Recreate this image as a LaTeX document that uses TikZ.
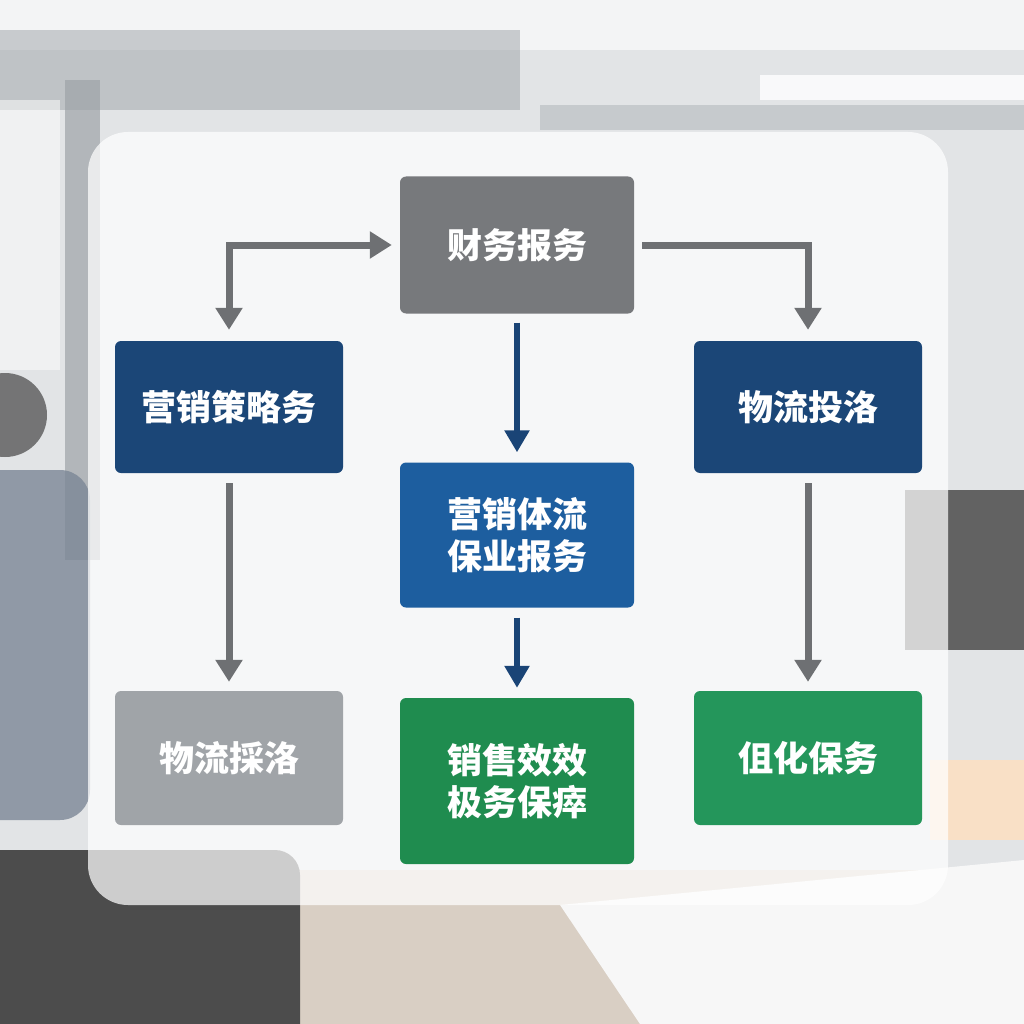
\documentclass[tikz,border=0pt]{standalone}
\usepackage{fontspec}
\usepackage{tikz}
\usetikzlibrary{positioning,arrows.meta}
\newfontfamily\cjk{Noto Sans CJK SC}[BoldFont={* Black}]

\definecolor{finGray}{HTML}{77797C}
\definecolor{mktBlue}{HTML}{1B4677}
\definecolor{coreBlue}{HTML}{1D5E9F}
\definecolor{pickGray}{HTML}{A0A4A8}
\definecolor{salesGreen}{HTML}{1F8C4F}
\definecolor{optGreen}{HTML}{24965B}
\definecolor{arrGray}{HTML}{6E7073}
\definecolor{arrBlue}{HTML}{1A4476}
\definecolor{sceneBg}{HTML}{E2E4E6}
\definecolor{frameTone}{HTML}{9EA3A8}
\definecolor{personTone}{HTML}{7C8796}
\definecolor{deskTone}{HTML}{D9CFC4}

\tikzset{
  box/.style={rectangle, rounded corners=6pt, text=white, align=center,
    font=\cjk\bfseries\fontsize{35}{42}\selectfont, inner sep=0pt},
  wide/.style={box, minimum width=234pt},
  narrow/.style={box, minimum width=228pt},
  gline/.style={draw=arrGray, line width=7pt, -{Triangle[width=26pt,length=22pt]}},
  bline/.style={draw=arrBlue, line width=6pt, -{Triangle[width=24pt,length=22pt]}}
}

\begin{document}
\begin{tikzpicture}[x=1pt,y=-1pt]
\useasboundingbox (0,0) rectangle (1024,1024);
% Scene
\fill[sceneBg] (0,0) rectangle (1024,1024);
\fill[white,opacity=0.6] (0,0) rectangle (1024,50);
\fill[frameTone,opacity=0.5] (0,30) rectangle (520,110);
\fill[frameTone,opacity=0.7] (65,80) rectangle (100,560);
\fill[white,opacity=0.5] (0,100) rectangle (60,370);
\fill[white,opacity=0.8] (760,75) rectangle (1024,100);
\fill[frameTone,opacity=0.4] (540,105) rectangle (1024,130);
\fill[black!70,opacity=0.85] (905,490) rectangle (1024,650);
\fill[black!65,opacity=0.8] (5,415) circle (42);
\fill[personTone,opacity=0.8,rounded corners=30pt] (-40,470) rectangle (90,820);
\fill[deskTone] (0,870) rectangle (1024,1024);
\fill[black!70,rounded corners=25pt] (-30,850) rectangle (300,1060);
\fill[white!94!gray] (560,905) -- (1024,860) -- (1024,1024) -- (640,1024) -- cycle;
\fill[orange!25!white,opacity=0.8] (930,760) rectangle (1024,840);
% Panel
\fill[white,opacity=0.72,rounded corners=40pt] (88,132) rectangle (948,905);
% Nodes
\node(fin)[wide, fill=finGray, minimum height=137pt] at (517,245){财务报务};
\node(mkt)[narrow, fill=mktBlue, minimum height=132pt] at (229,407){营销策略务};
\node(logi)[narrow, fill=mktBlue, minimum height=132pt] at (808,407){物流投洛};
\node(core)[wide, fill=coreBlue, minimum height=145pt] at (517,535){营销体流\\保业报务};
\node(pick)[narrow, fill=pickGray, minimum height=134pt] at (229,758){物流採洛};
\node(sales)[wide, fill=salesGreen, minimum height=166pt] at (517,781){销售效效\\极务保瘁};
\node(opt)[narrow, fill=optGreen, minimum height=134pt] at (808,758){伹化保务};
% Arcs
\draw[gline, {Triangle[width=26pt,length=22pt]}-{Triangle[width=26pt,length=22pt]}, shorten <=11pt, shorten >=8pt] (mkt.north) |- (fin.west);
\draw[gline, shorten <=8pt, shorten >=11pt] (fin.east) -| (logi.north);
\draw[bline, shorten <=9pt, shorten >=10pt] (fin.south) -- (core.north);
\draw[bline, shorten <=10pt, shorten >=10pt] (core.south) -- (sales.north);
\draw[gline, shorten <=10pt, shorten >=9pt] (mkt.south) -- (pick.north);
\draw[gline, shorten <=10pt, shorten >=9pt] (logi.south) -- (opt.north);
\end{tikzpicture}
\end{document}
